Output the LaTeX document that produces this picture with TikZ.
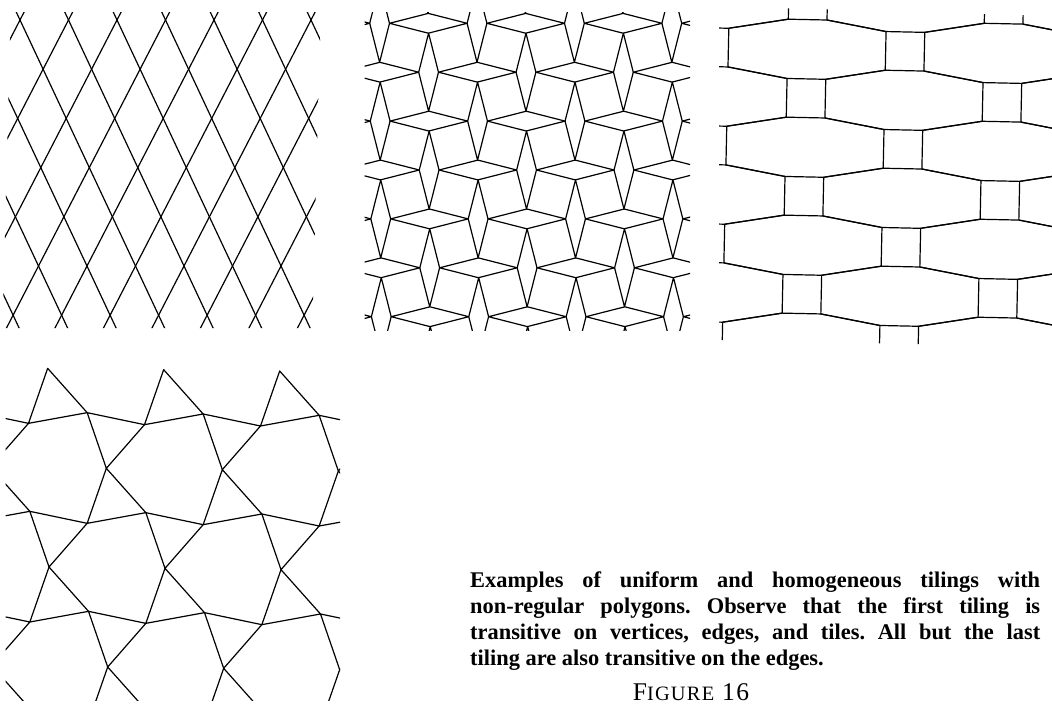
\documentclass[tikz,border=0pt]{standalone}
\usepackage{fontspec}
\setmainfont{Liberation Serif}
\usepackage{tikz}
\tikzset{
  tile/.style={line width=1.2pt, line join=round},
}

\begin{document}
\frenchspacing
\begin{tikzpicture}[
  x=1pt, y=-1pt,
  captxt/.style={inner sep=0pt, font=\fontsize{22.4}{26}\bfseries\selectfont},
  figtxt/.style={inner sep=0pt, font=\fontsize{25.5}{25}\selectfont\addfontfeature{LetterSpace=6}}
]
\useasboundingbox (0,0) rectangle (1052,704);

% rhombi
\begin{scope}
\clip (10.7,12) -- (320.8,12) -- (312.2,328) -- (2.5,328) -- cycle;
\foreach \i in {-8,...,7}
  \draw[tile] ({20+48.5*(\i)-2*23.1},{20-2*49.2}) -- ++({10*23.1},{10*49.2});
\foreach \i in {-1,...,12}
  \draw[tile] ({20+48.5*(\i)+2*25.4},{20-2*49.2}) -- ++({-10*25.4},{10*49.2});
\end{scope}

% squares and two rhombi
\begin{scope}
\clip (364.5,12.5) rectangle (690,330);
\foreach \i in {-2,...,6} \foreach \j in {-1,...,7} {
  \pgfmathsetmacro{\cx}{428.3+48.7*(\i)+0.28*(\j)}
  \pgfmathsetmacro{\cy}{23.3+48.9*(\j)}
  \pgfmathtruncatemacro{\kind}{mod(\i+\j+20,2)}
  \ifnum\kind=0
    \draw[tile] (\cx-38.8,\cy) -- ++(38.8,-9.9) -- ++(38.8,9.9) -- ++(-38.8,9.9) -- cycle;
  \else
    \draw[tile] (\cx-9.9,\cy) -- ++(9.9,-39) -- ++(9.9,39) -- ++(-9.9,39) -- cycle;
  \fi
}
\end{scope}

% octagons and squares
\begin{scope}
\clip (719,6.3) -- (1052,16) -- (1052,347) -- (719,340) -- cycle;
\begin{scope}[shift={(905,51.3)}, rotate=-1.2]
\foreach \k in {-3,...,3} \foreach \n in {-2,...,8} {
  \pgfmathtruncatemacro{\kind}{mod(\k+\n+20,2)}
  \ifnum\kind=1
    \draw[tile] ({98*(\k)-78.65},{49*(\n)-19.35}) -- ++(59.3,-10.3) -- ++(38.7,0)
      -- ++(59.3,10.3) -- ++(0,38.7) -- ++(-59.3,10.3) -- ++(-38.7,0) -- ++(-59.3,-10.3) -- cycle;
  \fi
}
\end{scope}
\end{scope}

% triangles and hexagons
\begin{scope}
\clip (5.5,360) rectangle (340,700);
\foreach \m in {-4,...,3} \foreach \n in {0,...,3} {
  \pgfmathsetmacro{\ax}{47.67+116*(\m)+58.67*(\n)}
  \pgfmathsetmacro{\ay}{368.33+1.33*(\m)+100*(\n)}
  \draw[tile] (\ax,\ay) -- ++(39.5,44.33) -- ++(-58.67,10.67) -- cycle;
}
\foreach \m in {-4,...,3} \foreach \n in {1,...,4} {
  \pgfmathsetmacro{\ax}{47.67+116*(\m)+58.67*(\n)}
  \pgfmathsetmacro{\ay}{368.33+1.33*(\m)+100*(\n)}
  \draw[tile] (\ax,\ay) -- ++(-19.17,-55.67) -- ++(57.34,12) -- cycle;
}
\end{scope}

% caption
\node[captxt, anchor=base west] (l1) at (470,587) {\makebox[570pt][s]{Examples of uniform and homogeneous tilings with}};
\node[captxt, anchor=base west] (l2) at (470,613) {\makebox[570pt][s]{non-regular polygons. Observe that the first tiling is}};
\node[captxt, anchor=base west] (l3) at (470,639) {\makebox[570pt][s]{transitive on vertices, edges, and tiles. All but the last}};
\node[captxt, anchor=base west] (l4) at (470,665) {tiling are also transitive on the edges.};
\node[figtxt, anchor=base] (fig) at (691,700.5) {F{\fontsize{20.4}{25}\selectfont IGURE} 16};

\end{tikzpicture}
\end{document}
